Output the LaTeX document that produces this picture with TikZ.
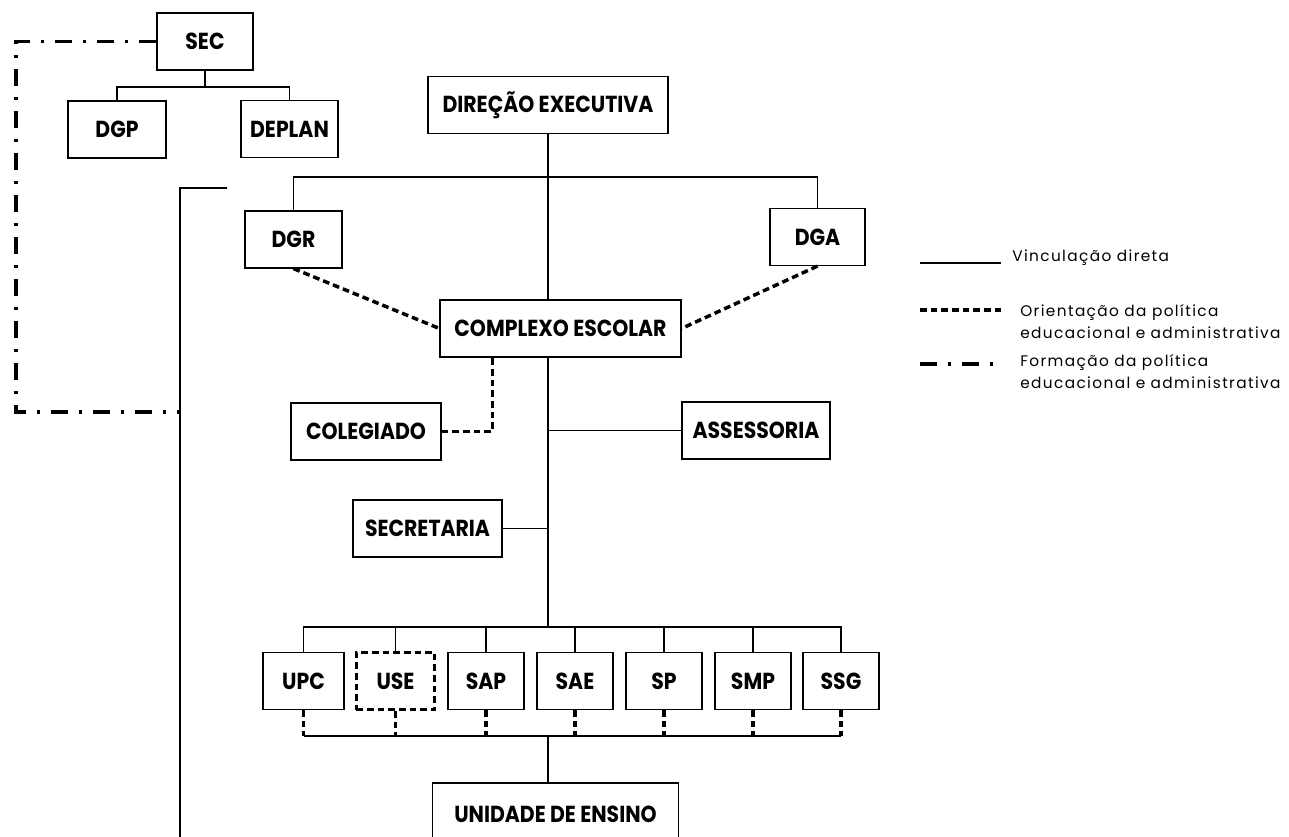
\documentclass[tikz,border=0pt]{standalone}
\usepackage{fontspec}
\newfontfamily\boxfont{Poppins}[FakeStretch=0.88]
\newfontfamily\legfont{Poppins}[LetterSpace=9]
\usetikzlibrary{calc}
\begin{document}
\begin{tikzpicture}[x=0.75pt,y=-0.75pt,
  conn/.style={line width=0.9pt},
  orient/.style={line width=2.6pt, dash pattern=on 5pt off 3pt},
  form/.style={line width=2.3pt, dash pattern=on 13pt off 8pt on 2.5pt off 8pt},
  box/.style={draw, line width=0.9pt, inner sep=0pt, minimum height=42.75pt,
    font=\boxfont\bfseries\fontsize{17.4}{17.4}\selectfont},
  dbox/.style={box, line width=2.4pt, dash pattern=on 5pt off 3pt},
  leg/.style={anchor=west, align=left, inner sep=0pt,
    font=\legfont\fontsize{11.5}{16.5}\selectfont}]
\useasboundingbox (0,0) rectangle (1289,837);

% top left
\node[box, minimum width=72pt] (SEC) at (205,41.5) {SEC};
\node[box, minimum width=73.5pt] (DGP) at (117,129.5) {DGP};
\node[box, minimum width=72.75pt] (DEPLAN) at (289.5,129) {DEPLAN};
\coordinate (secbus) at (203,87);
\draw[conn] (SEC.south) -- (SEC.south |- secbus);
\draw[conn] (DGP.north) |- (secbus) -| (DEPLAN.north);

% main hierarchy
\node[box, minimum width=180pt] (DIR) at (548,105) {DIREÇÃO EXECUTIVA};
\node[box, minimum width=72.75pt] (DGR) at (293.5,239.5) {DGR};
\node[box, minimum width=71.25pt] (DGA) at (817.5,237) {DGA};
\node[box, minimum width=180.75pt] (CE) at (560.5,328.5) {COMPLEXO ESCOLAR};
\node[box, minimum width=112.5pt] (COL) at (366,431.5) {COLEGIADO};
\node[box, minimum width=111pt] (ASS) at (756,430.5) {ASSESSORIA};
\node[box, minimum width=111.75pt] (SECR) at (427.5,528.5) {SECRETARIA};

\coordinate (topbus) at (548,177);
\draw[conn] (DIR.south) -- (DIR.south |- CE.north);
\draw[conn] (DGR.north) |- (topbus) -| (DGA.north);
\draw[orient] (DGR.south) -- (CE.west);
\draw[orient] (DGA.south) -- (CE.east);
\draw[orient] (COL.east) -| ($(CE.south west)+(53,0)$);
\draw[conn] (ASS.west) -- (ASS.west -| DIR.south);
\draw[conn] (SECR.east) -- (SECR.east -| DIR.south);

% service units
\coordinate (botbus) at (548,627);
\coordinate (lowbus) at (548,736);
\draw[conn] (DIR.south |- CE.south) -- (botbus);
\node[box, minimum width=60.75pt] (UPC) at (303.5,681) {UPC};
\node[dbox, minimum width=59pt] (USE) at (395.5,681) {USE};
\node[box, minimum width=57pt] (SAP) at (486,681) {SAP};
\node[box, minimum width=57pt] (SAE) at (575,681) {SAE};
\node[box, minimum width=57pt] (SP) at (664,681) {SP};
\node[box, minimum width=57pt] (SMP) at (753,681) {SMP};
\node[box, minimum width=57pt] (SSG) at (841,681) {SSG};
\draw[conn] (UPC.north) |- (botbus) -| (SSG.north);
\foreach \n in {USE,SAP,SAE,SP,SMP}
  \draw[conn] (\n.north) -- (\n.north |- botbus);
\draw[conn] (UPC.south |- lowbus) -- (SSG.south |- lowbus);
\foreach \n in {UPC,USE,SAP,SAE,SP,SMP,SSG}
  \draw[orient] (\n.south) -- (\n.south |- lowbus);
\node[box, minimum width=184.5pt, minimum height=46.5pt] (UNI) at (555.5,814) {UNIDADE DE ENSINO};
\draw[conn] (lowbus) -- (lowbus |- UNI.north);

% left long line and formation line
\coordinate (lt) at (227,188);
\coordinate (lb) at (180,837);
\draw[conn] (lt) -| (lb);
\coordinate (dd) at (16,412);
\coordinate (ddend) at (180,412);
\draw[form] (SEC.west) -| (dd) -- (ddend);

% legend
\coordinate (l1a) at (920,263); \coordinate (l1b) at (1001,263);
\coordinate (l2a) at (920,310); \coordinate (l2b) at (1001,310);
\coordinate (l3a) at (920,364); \coordinate (l3b) at (1001,364);
\draw[conn] (l1a) -- (l1b);
\draw[orient] (l2a) -- (l2b);
\draw[form] (l3a) -- (l3b);
\node[leg] (t1) at (1012,258) {Vinculação direta};
\node[leg] (t2) at (1020,322) {Orientação da política\\educacional e administrativa};
\node[leg] (t3) at (1020,372) {Formação da política\\educacional e administrativa};
\end{tikzpicture}
\end{document}
